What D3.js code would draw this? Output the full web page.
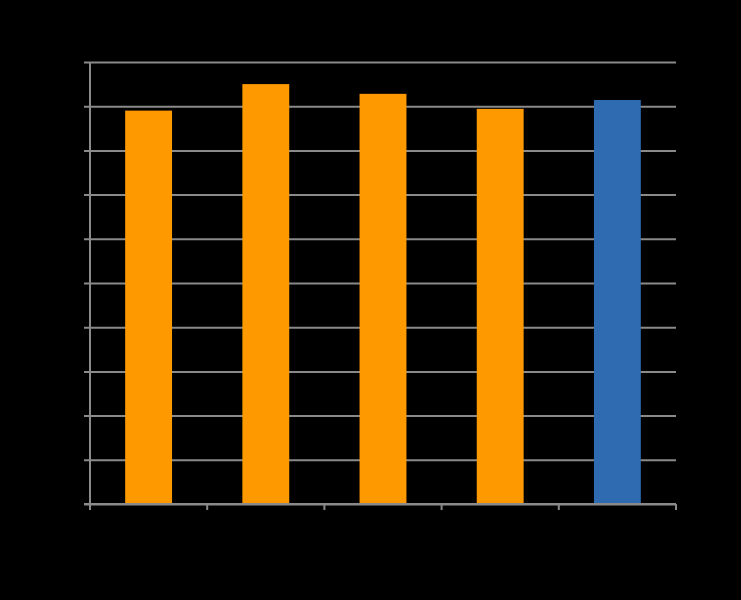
<!DOCTYPE html>
<html>
<head>
<meta charset="utf-8">
<script src="https://cdn.jsdelivr.net/npm/d3@7"></script>
<style>
  html, body { margin: 0; padding: 0; background: #000; }
  svg { display: block; }
</style>
</head>
<body>
<svg id="chart" width="741" height="600"></svg>
<script>
const categories = ["A", "B", "C", "D", "E"];
const values = [89.0, 95.0, 92.8, 89.4, 91.4];
const barColors = ["#FF9900", "#FF9900", "#FF9900", "#FF9900", "#2E6BB0"];
const yTicks = [0, 10, 20, 30, 40, 50, 60, 70, 80, 90, 100];

(function () {
const svg = d3.select("#chart");
const W = 741, H = 600;
svg.append("rect").attr("width", W).attr("height", H).attr("fill", "#000");

const pLeft = 90, pRight = 676, pTop = 62, pBottom = 504;
const gridColor = "#8a8a8a";

const x = d3.scaleBand().domain(categories).range([pLeft, pRight]).paddingInner(0.6).paddingOuter(0.3);
const y = d3.scaleLinear().domain([0, 100]).range([pBottom, pTop]);

// gridlines
const yAxis = d3.axisLeft(y).tickValues(yTicks).tickSize(-(pRight - pLeft)).tickSizeOuter(0).tickPadding(10);
const gy = svg.append("g").attr("transform", `translate(${pLeft},0)`).call(yAxis);
gy.select(".domain").remove();
gy.selectAll(".tick line").attr("stroke", gridColor).attr("stroke-width", 2).attr("x1", -6);
gy.selectAll(".tick text").attr("fill", "#000").attr("font-family", "Liberation Sans, Arial, sans-serif").attr("font-size", 13);

// bars
svg.append("g").selectAll("rect").data(values).join("rect")
  .attr("x", (d, i) => x(categories[i]))
  .attr("width", x.bandwidth())
  .attr("y", d => y(d))
  .attr("height", d => pBottom - y(d))
  .attr("fill", (d, i) => barColors[i]);

// vertical axis line
svg.append("line").attr("x1", pLeft).attr("x2", pLeft).attr("y1", pTop).attr("y2", pBottom + 4)
  .attr("stroke", gridColor).attr("stroke-width", 2);

// x axis
const xEdges = d3.scaleLinear().domain([0, categories.length]).range([pLeft, pRight]);
const gx = svg.append("g");
gx.append("line").attr("x1", pLeft - 6).attr("x2", pRight).attr("y1", pBottom).attr("y2", pBottom)
  .attr("stroke", gridColor).attr("stroke-width", 2);
gx.selectAll(".xt").data(d3.range(categories.length + 1)).join("line")
  .attr("class", "xt")
  .attr("x1", d => xEdges(d)).attr("x2", d => xEdges(d))
  .attr("y1", pBottom).attr("y2", pBottom + 6)
  .attr("stroke", gridColor).attr("stroke-width", 2);
gx.selectAll("text").data(categories).join("text")
  .attr("x", d => x(d) + x.bandwidth() / 2)
  .attr("y", pBottom + 24)
  .attr("text-anchor", "middle")
  .attr("fill", "#000")
  .attr("font-family", "Liberation Sans, Arial, sans-serif")
  .attr("font-size", 13)
  .text(d => d);
})();
</script>
</body>
</html>
